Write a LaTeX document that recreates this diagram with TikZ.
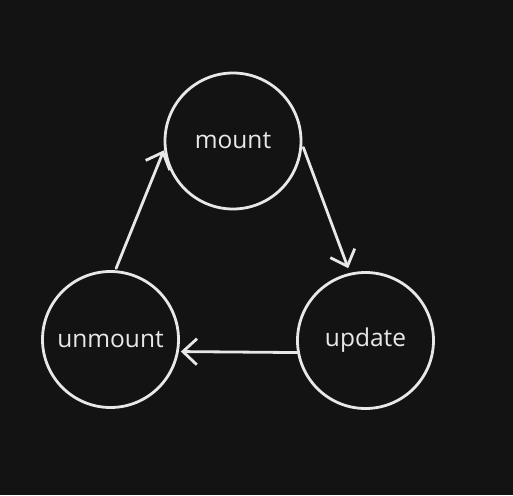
\documentclass[tikz,border=0pt]{standalone}
\usepackage{fontspec}
\setmainfont{Open Sans}
\usetikzlibrary{arrows.meta}
\definecolor{bg}{HTML}{131313}
\definecolor{ink}{HTML}{E8E8E8}
\begin{document}
\begin{tikzpicture}[x=1pt,y=-1pt,
  state/.style={circle,draw=ink,line width=2.8pt,minimum size=136pt,inner sep=0pt,
    text=ink,font=\fontsize{24.5}{26}\selectfont},
  conn/.style={draw=ink,line width=2.8pt,line cap=round,
    -{Straight Barb[length=14pt,width=26pt,line width=2.8pt]}}]
\fill[bg] (0,0) rectangle (513,495);
\useasboundingbox (0,0) rectangle (513,495);
\node[state] (mount) at (233,141) {mount};
\node[state] (update) at (365.5,340.5) {update};
\node[state] (unmount) at (110.5,339.5) {unmount};
\draw[conn,shorten <=3pt,shorten >=5pt] (mount.-3) -- (update.103);
\draw[conn,shorten <=0pt,shorten >=2pt] (update.190) -- (unmount.-10);
\draw[conn,shorten <=2pt,shorten >=1pt] (unmount.86) -- (mount.187);
\end{tikzpicture}
\end{document}
